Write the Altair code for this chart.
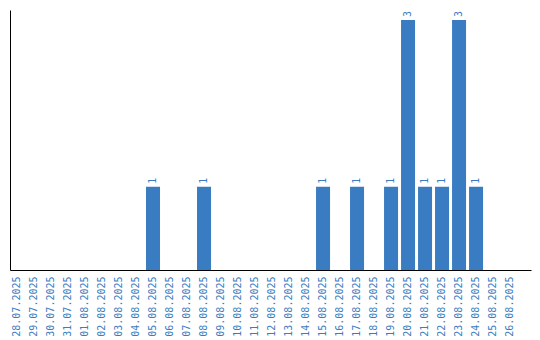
import altair as alt
import pandas as pd

dates = ["28.07.2025", "29.07.2025", "30.07.2025", "31.07.2025", "01.08.2025",
         "02.08.2025", "03.08.2025", "04.08.2025", "05.08.2025", "06.08.2025",
         "07.08.2025", "08.08.2025", "09.08.2025", "10.08.2025", "11.08.2025",
         "12.08.2025", "13.08.2025", "14.08.2025", "15.08.2025", "16.08.2025",
         "17.08.2025", "18.08.2025", "19.08.2025", "20.08.2025", "21.08.2025",
         "22.08.2025", "23.08.2025", "24.08.2025", "25.08.2025", "26.08.2025"]
counts = [0, 0, 0, 0, 0, 0, 0, 0, 1, 0,
          0, 1, 0, 0, 0, 0, 0, 0, 1, 0,
          1, 0, 1, 3, 1, 1, 3, 1, 0, 0]

df = pd.DataFrame({"date": dates, "count": counts})
BLUE = "#3a7cc1"

x = alt.X("date:N", sort=dates, title=None,
          scale=alt.Scale(paddingInner=0.176, paddingOuter=0.41, align=0),
          axis=alt.Axis(labelAngle=270, labelAlign="right", labelBaseline="middle",
                        labelFont="DejaVu Sans Mono", labelFontSize=10,
                        labelColor=BLUE, ticks=False, labelPadding=6,
                        domainColor="black", domainWidth=1, grid=False))
y = alt.Y("count:Q", title=None, scale=alt.Scale(domain=[0, 3.12], nice=False, zero=True),
          axis=alt.Axis(labels=False, ticks=False, grid=False, domainColor="black",
                        domainWidth=1))

bars = alt.Chart(df).mark_bar(color=BLUE).encode(x=x, y=y)
text = alt.Chart(df).transform_filter("datum.count > 0").mark_text(
    angle=270, align="left", baseline="middle", dx=3,
    font="DejaVu Sans Mono", fontSize=10, color=BLUE
).encode(x=alt.X("date:N", sort=dates), y="count:Q", text="count:Q")

chart = (bars + text).properties(
    width=521, height=260,
    autosize=alt.AutoSizeParams(type="none"),
    padding={"left": 10, "top": 10, "right": 9, "bottom": 70},
    background="white",
).configure_view(stroke=None)

chart.save("out.html", embed_options={"renderer": "svg", "actions": False})
